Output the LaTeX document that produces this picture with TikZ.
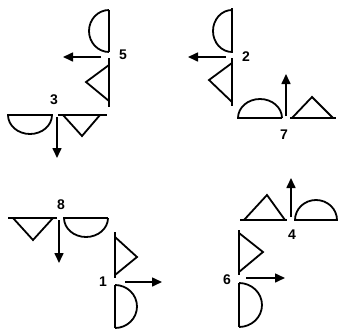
\documentclass[tikz,border=0pt]{standalone}
\usepackage{fontspec}
\setmainfont{Liberation Sans}
\usetikzlibrary{arrows.meta}
\tikzset{
  bar/.style={line width=2.6pt, line cap=butt},
  shp/.style={line width=1.8pt, line join=miter},
  arr/.style={line width=1.6pt, -{Triangle[length=10pt,width=9pt]}},
  lab/.style={font=\fontsize{14}{14}\selectfont\bfseries, inner sep=0pt}
}
\begin{document}
\begin{tikzpicture}[x=1pt,y=-1pt]
\path[use as bounding box] (0,0) rectangle (341,330);
% group 5
\draw[bar] (109,10) -- (109,52);
\draw[shp] (109,10) arc[start angle=-90,end angle=-270,x radius=20,y radius=21];
\draw[bar] (109,58) -- (109,107);
\draw[shp] (109,65) -- (86,82) -- (109,101);
\draw[arr] (101,57) -- (63,57);
\node[lab] (l5) at (123,55) {5};
% group 3
\draw[bar] (7,115) -- (53,115);
\draw[shp] (8,115) arc[start angle=180,end angle=0,x radius=22,y radius=19];
\draw[bar] (58,115) -- (107,115);
\draw[shp] (63,115) -- (82,136) -- (100,115);
\draw[arr] (57,117) -- (57,158);
\node[lab] (l3) at (54,100) {3};
% group 2
\draw[bar] (232,8) -- (232,53);
\draw[shp] (232,10) arc[start angle=-90,end angle=-270,x radius=19,y radius=21];
\draw[bar] (232,58) -- (232,106);
\draw[shp] (232,63) -- (209,80) -- (232,102);
\draw[arr] (226,57) -- (188,57);
\node[lab] (l2) at (246,57) {2};
% group 7
\draw[bar] (237,118) -- (282,118);
\draw[shp] (238,118) arc[start angle=180,end angle=360,x radius=22,y radius=19];
\draw[bar] (290,118) -- (336,118);
\draw[shp] (292,118) -- (312,97) -- (333,118);
\draw[arr] (286,116) -- (286,74);
\node[lab] (l7) at (284,135) {7};
% group 8
\draw[bar] (8,218) -- (57,218);
\draw[shp] (13,218) -- (33,240) -- (53,218);
\draw[bar] (63,218) -- (108,218);
\draw[shp] (64,218) arc[start angle=180,end angle=0,x radius=22,y radius=19];
\draw[arr] (59,220) -- (59,263);
\node[lab] (l8) at (61,205) {8};
% group 1
\draw[bar] (115,232) -- (115,278);
\draw[shp] (115,237) -- (137,257) -- (115,275);
\draw[bar] (115,285) -- (115,328);
\draw[shp] (115,285) arc[start angle=-90,end angle=90,x radius=22,y radius=21.5];
\draw[arr] (125,282) -- (162,282);
\node[lab] (l1) at (103,282) {1};
% group 4
\draw[bar] (240,220) -- (287,220);
\draw[shp] (244,220) -- (267,195) -- (285,220);
\draw[bar] (294,220) -- (338,220);
\draw[shp] (295,220) arc[start angle=180,end angle=360,x radius=21,y radius=20];
\draw[arr] (291,217) -- (291,178);
\node[lab] (l4) at (292,235) {4};
% group 6
\draw[bar] (239,230) -- (239,275);
\draw[shp] (239,233) -- (263,252) -- (239,272);
\draw[bar] (239,283) -- (239,327);
\draw[shp] (239,283) arc[start angle=-90,end angle=90,x radius=23,y radius=22];
\draw[arr] (246,278) -- (285,278);
\node[lab] (l6) at (227,280) {6};
\end{tikzpicture}
\end{document}
